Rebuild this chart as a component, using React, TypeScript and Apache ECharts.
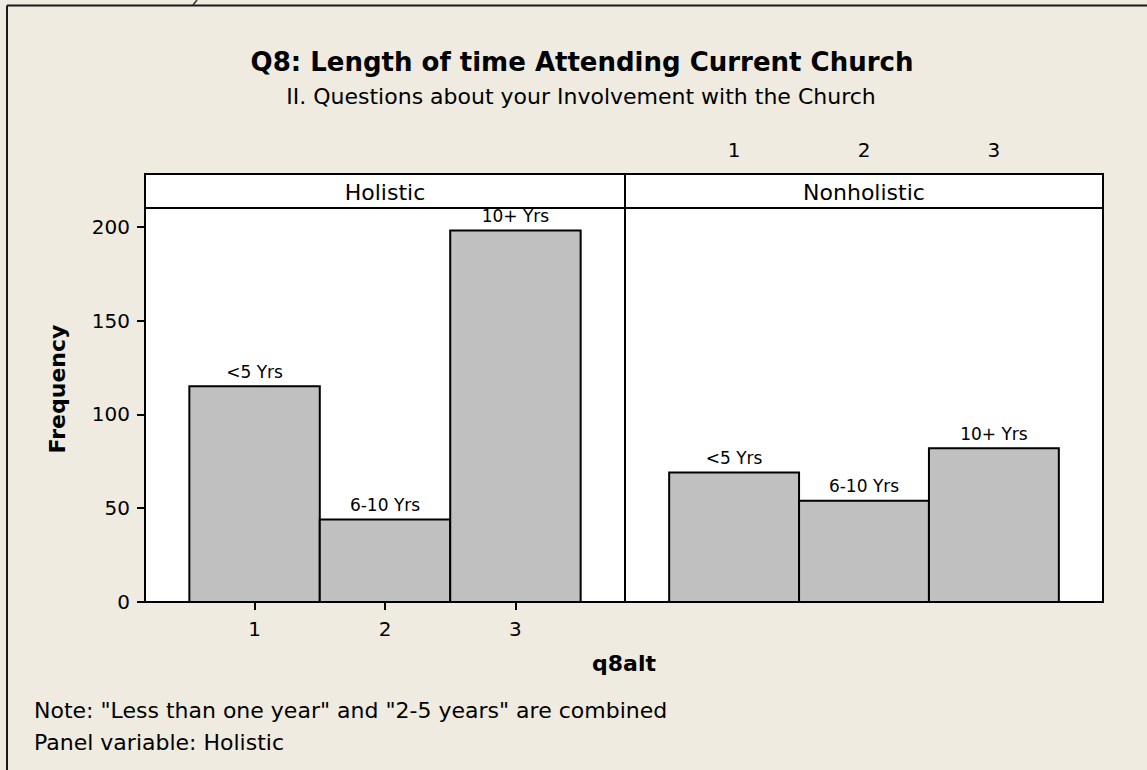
import React, { useEffect, useRef } from 'react';
import * as echarts from 'echarts';

const xValues = [1, 2, 3];
const barLabels = ['<5 Yrs', '6-10 Yrs', '10+ Yrs'];
const holisticValues = [115, 44, 198];
const nonholisticValues = [69, 54, 82];
const yTicks = [0, 50, 100, 150, 200];
const xTicks = [1, 2, 3];
const panelNames = ['Holistic', 'Nonholistic'];
const titleText = 'Q8: Length of time Attending Current Church';
const subtitleText = 'II. Questions about your Involvement with the Church';
const yAxisName = 'Frequency';
const xAxisName = 'q8alt';
const noteLines = ['Note: "Less than one year" and "2-5 years" are combined', 'Panel variable: Holistic'];

const FONT = 'DejaVu Sans';

function barRenderer(params: any, api: any) {
  const x = api.value(0);
  const y = api.value(1);
  const p0 = api.coord([x - 0.5, y]);
  const p1 = api.coord([x + 0.5, 0]);
  return {
    type: 'group',
    children: [
      {
        type: 'rect',
        shape: { x: p0[0], y: p0[1], width: p1[0] - p0[0], height: p1[1] - p0[1] },
        style: { fill: '#C0C0C0', stroke: '#000', lineWidth: 2 },
      },
      {
        type: 'text',
        style: {
          text: barLabels[params.dataIndex],
          x: (p0[0] + p1[0]) / 2,
          y: p0[1] - 6,
          align: 'center',
          verticalAlign: 'bottom',
          fontSize: 17,
          fontFamily: FONT,
          fill: '#000',
        },
      },
    ],
  };
}

export default function App() {
  const ref = useRef<HTMLDivElement>(null);
  useEffect(() => {
    if (!ref.current) return;
    const chart = echarts.init(ref.current, undefined, { renderer: 'svg' });
    const frameL = 145, frameR = 1103, stripTop = 174, plotTop = 208, plotBottom = 602, divX = 625;
    const option: any = {
      animation: false,
      backgroundColor: '#EFEBE1',
      textStyle: { fontFamily: FONT },
      grid: [
        { left: frameL, top: plotTop, width: divX - frameL, height: plotBottom - plotTop, show: true, backgroundColor: '#fff', borderColor: '#000', borderWidth: 2 },
        { left: divX, top: plotTop, width: frameR - divX, height: plotBottom - plotTop, show: true, backgroundColor: '#fff', borderColor: '#000', borderWidth: 2 },
      ],
      xAxis: [
        {
          gridIndex: 0, type: 'value', min: 0.16, max: 3.84, position: 'bottom',
          axisLine: { show: false }, splitLine: { show: false },
          axisTick: { show: true, length: 8, lineStyle: { color: '#000', width: 2 }, customValues: xTicks },
          axisLabel: { fontSize: 20, color: '#000', margin: 17, fontFamily: FONT, customValues: xTicks },
        },
        {
          gridIndex: 1, type: 'value', min: 0.16, max: 3.84, position: 'top', offset: plotTop - stripTop,
          axisLine: { show: false }, splitLine: { show: false },
          axisTick: { show: true, length: 8, lineStyle: { color: '#000', width: 2 }, customValues: xTicks },
          axisLabel: { fontSize: 20, color: '#000', margin: 14, fontFamily: FONT, customValues: xTicks },
        },
      ],
      yAxis: [
        {
          gridIndex: 0, type: 'value', min: 0, max: 210,
          axisLine: { show: false }, splitLine: { show: false },
          axisTick: { show: true, length: 8, lineStyle: { color: '#000', width: 2 }, customValues: yTicks },
          axisLabel: { fontSize: 20, color: '#000', margin: 15, fontFamily: FONT, customValues: yTicks },
        },
        {
          gridIndex: 1, type: 'value', min: 0, max: 210, show: false,
        },
      ],
      series: [
        {
          type: 'custom', xAxisIndex: 0, yAxisIndex: 0,
          renderItem: barRenderer,
          data: xValues.map((x, i) => [x, holisticValues[i]]),
          encode: { x: 0, y: 1 },
          clip: false,
        },
        {
          type: 'custom', xAxisIndex: 1, yAxisIndex: 1,
          renderItem: barRenderer,
          data: xValues.map((x, i) => [x, nonholisticValues[i]]),
          encode: { x: 0, y: 1 },
          clip: false,
        },
      ],
      graphic: [
        { type: 'line', shape: { x1: 7, y1: 5.5, x2: 1147, y2: 5.5 }, style: { stroke: '#1a1a1a', lineWidth: 2 }, z: 100 },
        { type: 'line', shape: { x1: 7, y1: 5.5, x2: 7, y2: 770 }, style: { stroke: '#1a1a1a', lineWidth: 2 }, z: 100 },
        { type: 'line', shape: { x1: 197, y1: 0, x2: 193, y2: 5 }, style: { stroke: '#333', lineWidth: 1.5 }, z: 100 },
        { type: 'rect', shape: { x: frameL, y: stripTop, width: frameR - frameL, height: plotTop - stripTop }, style: { fill: '#fff', stroke: '#000', lineWidth: 2 }, z: 100 },
        { type: 'line', shape: { x1: divX, y1: stripTop, x2: divX, y2: plotTop }, style: { stroke: '#000', lineWidth: 2 }, z: 101 },
        { type: 'text', style: { text: panelNames[0], x: (frameL + divX) / 2, y: (stripTop + plotTop) / 2 + 1, align: 'center', verticalAlign: 'middle', fontSize: 22, fontFamily: FONT, fill: '#000' }, z: 102 },
        { type: 'text', style: { text: panelNames[1], x: (divX + frameR) / 2, y: (stripTop + plotTop) / 2 + 1, align: 'center', verticalAlign: 'middle', fontSize: 22, fontFamily: FONT, fill: '#000' }, z: 102 },
        { type: 'text', style: { text: titleText, x: 582, y: 62, align: 'center', verticalAlign: 'middle', fontSize: 26, fontWeight: 'bold', fontFamily: FONT, fill: '#000' } },
        { type: 'text', style: { text: subtitleText, x: 581, y: 96, align: 'center', verticalAlign: 'middle', fontSize: 22, fontFamily: FONT, fill: '#000' } },
        { type: 'text', rotation: Math.PI / 2, x: 57, y: 389, style: { text: yAxisName, x: 0, y: 0, align: 'center', verticalAlign: 'middle', fontSize: 22, fontWeight: 'bold', fontFamily: FONT, fill: '#000' } },
        { type: 'text', style: { text: xAxisName, x: 624, y: 663, align: 'center', verticalAlign: 'middle', fontSize: 22, fontWeight: 'bold', fontFamily: FONT, fill: '#000' } },
        { type: 'text', style: { text: noteLines[0], x: 34, y: 710, align: 'left', verticalAlign: 'middle', fontSize: 22, fontFamily: FONT, fill: '#000' } },
        { type: 'text', style: { text: noteLines[1], x: 34, y: 742, align: 'left', verticalAlign: 'middle', fontSize: 22, fontFamily: FONT, fill: '#000' } },
      ],
    };
    chart.setOption(option);
    return () => chart.dispose();
  }, []);
  return <div ref={ref} style={{ position: 'fixed', left: 0, top: 0, width: 1147, height: 770 }} />;
}
